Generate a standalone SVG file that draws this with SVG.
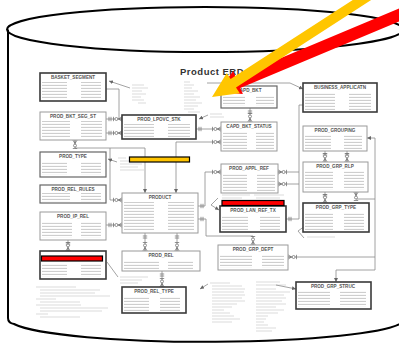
<svg xmlns="http://www.w3.org/2000/svg" width="399" height="344" viewBox="0 0 399 344">
<style>
.box{fill:#fff;stroke:#9a9a9a;stroke-width:1}
.dk{stroke:#3a3a3a;stroke-width:1.6}
.md{stroke:#666;stroke-width:1.2}
.nm{font-family:"Liberation Sans",Arial,sans-serif;font-size:4.6px;font-weight:bold;fill:#555;text-anchor:middle}
.cn{fill:none;stroke:#8c8c8c;stroke-width:0.8}
.sy{fill:none;stroke:#666;stroke-width:0.7}
.note{fill:none;stroke:#d2d2d2;stroke-width:0.8}
.rows{fill:url(#tx)}
.cyl{fill:none;stroke:#000;stroke-width:2}
</style>
<defs>
<pattern id="tx" width="4" height="3" patternUnits="userSpaceOnUse"><rect x="0" y="0.9" width="4" height="0.9" fill="#c2c2c2"/></pattern>
<g id="cf"><path d="M-3.5,0 L0,-2.2 M-3.5,0 L0,2.2 M-3.5,0 H0 M-8.5,-2.2 V2.2"/><circle cx="-5.6" cy="0" r="1.5" fill="#fff"/></g>
<g id="one"><path d="M-3,-2.2 V2.2 M-5,-2.2 V2.2"/></g>
<marker id="ah" viewBox="0 0 6 6" refX="6" refY="3" markerWidth="4" markerHeight="4" markerUnits="userSpaceOnUse" orient="auto-start-reverse"><path d="M0,0 L6,3 L0,6 z" fill="#666"/></marker>
</defs>
<rect width="399" height="344" fill="#fff"/>

<!-- cylinder -->
<g id="cylinder">
<ellipse class="cyl" cx="205" cy="29.5" rx="198" ry="22.5"/>
<path class="cyl" d="M8,29.5 V318"/>
<path class="cyl" d="M8,318 Q8,323 14,324 A198 23 0 0 0 403,322" stroke-width="2.6"/>
</g>

<text x="180" y="74.5" font-family="Liberation Sans, Arial, sans-serif" font-size="9.5" font-weight="bold" letter-spacing="0.5" fill="#333">Product ERD</text>

<!-- annotation text blocks -->
<g id="notes">
<path class="note" d="M132,85h12 M132,88h16 M132,91h10 M132,94h14 M132,97h9 M132,100h12 M138,103h8
M184,82h6 M184,85h10 M184,88h8 M184,91h14 M184,94h10 M184,97h16 M184,100h12 M184,103h18 M184,106h14 M184,109h10 M188,112h12
M210,114h12 M210,117h14
M118,158h8 M120,161h14 M120,164h22 M120,167h18 M120,170h24
M120,277h28 M120,280h22 M120,283h18
M36,287h40 M40,290h60 M40,293h55 M40,296h70 M36,299h20 M40,302h40 M36,305h45 M40,308h68 M40,311h62 M36,314h12 M40,317h40
M210,283h20 M212,286h30 M212,289h33 M212,292h32 M212,295h33 M212,298h30 M212,301h33 M212,304h25 M212,307h20 M212,310h12 M212,313h18 M212,316h22 M212,319h28 M212,322h20
M256,282h24 M256,285h30 M256,289h20 M256,292h34 M256,295h28 M256,298h30 M256,301h26 M256,304h30 M256,307h20 M256,310h28 M256,313h22 M256,316h12 M256,319h10 M256,322h8 M256,325h12 M256,328h20 M256,331h16
M307,237h28
M222,195h28 M254,195h30 M222,198h20 M256,198h24"/>
</g>

<!-- connectors -->
<g id="connectors">
<path class="cn" d="M130,88 L109,81" marker-end="url(#ah)"/>
<path class="cn" d="M106,89 H119 V119"/>
<path class="cn" d="M106,119 H122"/>
<path class="cn" d="M106,133 H122"/>
<path class="cn" d="M75,140 V148 H145 V193" marker-end="url(#ah)"/>
<path class="cn" d="M110,148 V200 H122"/>
<path class="cn" d="M221,142 H176 V193" marker-end="url(#ah)"/>
<path class="cn" d="M196,129 H221"/>
<path class="cn" d="M208,115 L199,119" marker-end="url(#ah)"/>
<path class="cn" d="M117,162 L108,159" marker-end="url(#ah)"/>
<path class="cn" d="M106,225 H122"/>
<path class="cn" d="M68,240 V251"/>
<path class="cn" d="M145,233 V251 M177,233 V251"/>
<path class="cn" d="M162,271 V287"/>
<path class="cn" d="M198,206 H205 V172 H221"/>
<path class="cn" d="M198,219 H206 V236 H253 V245"/>
<path class="cn" d="M250,108 V122"/>
<path class="cn" d="M207,83 H290 L303,89" marker-end="url(#ah)"/>
<path class="cn" d="M303,105 H299 V219 H286"/>
<path class="cn" d="M278,172 H299 M278,184 H299"/>
<path class="cn" d="M325,151 V162 M347,151 V162"/>
<path class="cn" d="M325,192 V203"/>
<path class="cn" d="M356,192 V199 H375"/>
<path class="cn" d="M367,138 H375 V270 H336 V282" marker-start="url(#ah)" marker-end="url(#ah)"/>
<path class="cn" d="M288,257 H375"/>
<path class="cn" d="M107,262 L118,277"/>
<path class="cn" d="M218,198 L211,205 L219,210" marker-end="url(#ah)"/>
<path class="cn" d="M304,238 L298,231 L322,214" marker-end="url(#ah)"/>
<path class="cn" d="M208,284 L200,289" marker-end="url(#ah)"/>
<path class="cn" d="M276,285 L296,289" marker-end="url(#ah)"/>
<g class="sy">
<use href="#one" transform="translate(106,119) rotate(180)"/><use href="#cf" transform="translate(122,119)"/>
<use href="#one" transform="translate(106,133) rotate(180)"/><use href="#cf" transform="translate(122,133)"/>
<use href="#cf" transform="translate(75,140) rotate(-90)"/>
<use href="#cf" transform="translate(122,200)"/>
<use href="#cf" transform="translate(221,142)"/>
<use href="#one" transform="translate(196,129) rotate(180)"/><use href="#cf" transform="translate(221,129)"/>
<use href="#one" transform="translate(106,225) rotate(180)"/><use href="#cf" transform="translate(122,225)"/>
<use href="#one" transform="translate(68,240) rotate(-90)"/><use href="#cf" transform="translate(68,251) rotate(90)"/>
<use href="#one" transform="translate(145,233) rotate(-90)"/><use href="#cf" transform="translate(145,251) rotate(90)"/>
<use href="#one" transform="translate(177,233) rotate(-90)"/><use href="#cf" transform="translate(177,251) rotate(90)"/>
<use href="#one" transform="translate(162,271) rotate(-90)"/><use href="#cf" transform="translate(162,287) rotate(90)"/>
<use href="#one" transform="translate(198,206) rotate(180)"/><use href="#cf" transform="translate(221,172)"/>
<use href="#one" transform="translate(198,219) rotate(180)"/><use href="#cf" transform="translate(253,245) rotate(90)"/>
<use href="#one" transform="translate(250,108) rotate(-90)"/><use href="#cf" transform="translate(250,122) rotate(90)"/>
<use href="#one" transform="translate(286,219) rotate(180)"/>
<use href="#cf" transform="translate(278,172) rotate(180)"/><use href="#cf" transform="translate(278,184) rotate(180)"/>
<use href="#one" transform="translate(325,151) rotate(-90)"/><use href="#cf" transform="translate(325,162) rotate(90)"/>
<use href="#one" transform="translate(347,151) rotate(-90)"/><use href="#cf" transform="translate(347,162) rotate(90)"/>
<use href="#one" transform="translate(325,192) rotate(-90)"/><use href="#cf" transform="translate(325,203) rotate(90)"/>
<use href="#cf" transform="translate(356,192) rotate(-90)"/>
<use href="#cf" transform="translate(288,257) rotate(180)"/>
</g>
</g>

<!-- nodes -->
<g id="basket-segment"><rect class="box dk" x="40" y="73" width="66" height="28"/><text class="nm" x="73" y="79">BASKET_SEGMENT</text><rect class="rows" x="42" y="82" width="25" height="17"/><rect class="rows" x="81" y="82" width="20" height="17"/></g>
<g id="prod-bkt-seg-st"><rect class="box" x="40" y="112" width="66" height="28"/><text class="nm" x="73" y="118">PROD_BKT_SEG_ST</text><rect class="rows" x="42" y="121" width="28" height="17"/><rect class="rows" x="81" y="121" width="21" height="17"/></g>
<g id="prod-lpovc-stk"><rect class="box dk" x="122" y="115" width="74" height="24"/><text class="nm" x="159" y="121">PROD_LPOVC_STK</text><rect class="rows" x="124" y="124" width="30" height="13"/><rect class="rows" x="168" y="124" width="22" height="13"/></g>
<g id="prod-type"><rect class="box md" x="40" y="152" width="66" height="25"/><text class="nm" x="73" y="158">PROD_TYPE</text><rect class="rows" x="42" y="161" width="25" height="14"/><rect class="rows" x="81" y="161" width="20" height="14"/></g>
<g id="prod-rel-rules"><rect class="box md" x="40" y="185" width="66" height="18"/><text class="nm" x="73" y="191">PROD_REL_RULES</text><rect class="rows" x="42" y="193" width="28" height="9"/><rect class="rows" x="81" y="193" width="20" height="9"/></g>
<g id="prod-ip-rel"><rect class="box" x="40" y="212" width="66" height="28"/><text class="nm" x="73" y="218">PROD_IP_REL</text><rect class="rows" x="42" y="221" width="30" height="17"/><rect class="rows" x="81" y="221" width="20" height="17"/></g>
<g id="hidden-table"><rect class="box dk" x="40" y="251" width="66" height="28"/><rect class="rows" x="42" y="263" width="25" height="14"/><rect class="rows" x="81" y="263" width="20" height="14"/><rect x="41.5" y="256" width="61" height="5" fill="#f00" stroke="#000" stroke-width="1.2"/></g>
<g id="product"><rect class="box" x="122" y="193" width="76" height="40"/><text class="nm" x="160" y="199">PRODUCT</text><rect class="rows" x="124" y="202" width="30" height="29"/><rect class="rows" x="168" y="202" width="26" height="29"/></g>
<g id="prod-rel"><rect class="box" x="122" y="251" width="78" height="20"/><text class="nm" x="161" y="257">PROD_REL</text><rect class="rows" x="124" y="260" width="35" height="9"/><rect class="rows" x="168" y="260" width="25" height="9"/></g>
<g id="prod-rel-type"><rect class="box dk" x="122" y="287" width="64" height="26"/><text class="nm" x="154" y="293">PROD_REL_TYPE</text><rect class="rows" x="124" y="296" width="25" height="15"/><rect class="rows" x="160" y="296" width="20" height="15"/></g>
<g id="capd-bkt"><rect class="box md" x="221" y="86" width="56" height="22"/><text class="nm" x="249" y="92">CAPD_BKT</text><rect class="rows" x="223" y="95" width="22" height="11"/><rect class="rows" x="256" y="95" width="18" height="11"/></g>
<g id="business-applicatn"><rect class="box dk" x="303" y="83" width="74" height="29"/><text class="nm" x="340" y="89">BUSINESS_APPLICATN</text><rect class="rows" x="305" y="92" width="30" height="18"/><rect class="rows" x="349" y="92" width="22" height="18"/></g>
<g id="capd-bkt-status"><rect class="box" x="221" y="122" width="56" height="29"/><text class="nm" x="249" y="128">CAPD_BKT_STATUS</text><rect class="rows" x="223" y="131" width="24" height="18"/><rect class="rows" x="256" y="131" width="18" height="18"/></g>
<g id="prod-grouping"><rect class="box" x="303" y="126" width="64" height="25"/><text class="nm" x="335" y="132">PROD_GROUPING</text><rect class="rows" x="305" y="135" width="26" height="14"/><rect class="rows" x="344" y="135" width="18" height="14"/></g>
<g id="prod-appl-ref"><rect class="box" x="221" y="164" width="57" height="29"/><text class="nm" x="249" y="170">PROD_APPL_REF</text><rect class="rows" x="223" y="173" width="24" height="18"/><rect class="rows" x="257" y="173" width="18" height="18"/></g>
<g id="prod-grp-rlp"><rect class="box" x="303" y="162" width="65" height="30"/><text class="nm" x="335" y="168">PROD_GRP_RLP</text><rect class="rows" x="305" y="171" width="28" height="19"/><rect class="rows" x="344" y="171" width="20" height="19"/></g>
<g id="prod-grp-type"><rect class="box dk" x="303" y="203" width="66" height="29"/><text class="nm" x="336" y="209">PROD_GRP_TYPE</text><rect class="rows" x="305" y="212" width="28" height="18"/><rect class="rows" x="344" y="212" width="20" height="18"/></g>
<g id="prod-lan-ref-tx"><rect class="box dk" x="220" y="206" width="66" height="26"/><text class="nm" x="253" y="212">PROD_LAN_REF_TX</text><rect class="rows" x="222" y="215" width="26" height="15"/><rect class="rows" x="260" y="215" width="20" height="15"/><rect x="222" y="200.5" width="62" height="5" fill="#f00" stroke="#000" stroke-width="1.2"/></g>
<g id="prod-grp-dept"><rect class="box" x="218" y="245" width="70" height="25"/><text class="nm" x="253" y="251">PROD_GRP_DEPT</text><rect class="rows" x="220" y="254" width="32" height="14"/><rect class="rows" x="262" y="254" width="22" height="14"/></g>
<g id="prod-grp-struc"><rect class="box dk" x="296" y="282" width="75" height="27"/><text class="nm" x="333" y="288">PROD_GRP_STRUC</text><rect class="rows" x="298" y="291" width="32" height="16"/><rect class="rows" x="340" y="291" width="26" height="16"/></g>

<!-- yellow highlight bar -->
<rect x="129.5" y="157" width="60" height="5" fill="#FFC400" stroke="#000" stroke-width="1.2"/>

<!-- pointer arrows -->
<g id="pointers">
<polygon fill="#FF0000" points="218,92 233.1,70.9 235.7,77 406.3,5.4 410.9,16.4 240.3,88 242.9,94.1"/>
<polygon fill="#FFC600" points="212,97 226.8,73.1 230.6,79 386,-21.5 391.4,-13.1 236,87.4 239.8,93.3"/>
</g>
</svg>
